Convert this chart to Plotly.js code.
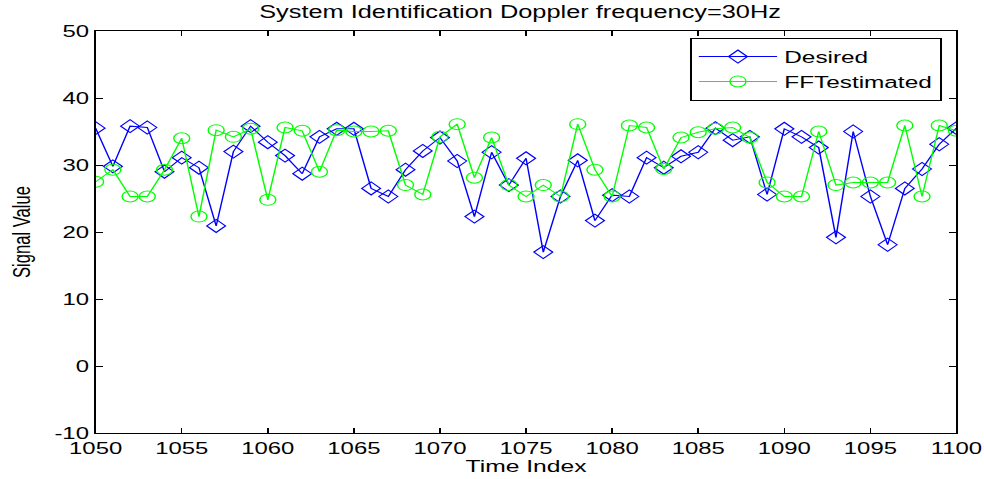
<!DOCTYPE html>
<html>
<head>
<meta charset="utf-8">
<script src="https://cdn.plot.ly/plotly-3.0.1.min.js"></script>
<style>
html,body{margin:0;padding:0;background:#fff;overflow:hidden;}
#wrap{width:984px;height:479px;overflow:hidden;}
#chart{width:679px;height:479px;transform:scaleX(1.4492);transform-origin:0 0;}
</style>
</head>
<body>
<div id="wrap"><div id="chart"></div></div>
<script>
const timeIndex = [];
for (let t = 1050; t <= 1100; t++) timeIndex.push(t);

const desired = [35.5, 29.8, 35.8, 35.6, 29.0, 31.1, 29.6, 20.9, 32.0, 35.8,
  33.4, 31.4, 28.7, 34.2, 35.4, 35.4, 26.5, 25.3, 29.3, 32.1,
  34.1, 30.6, 22.3, 31.9, 27.0, 31.0, 17.0, 25.3, 30.7, 21.7,
  25.5, 25.3, 31.1, 29.6, 31.3, 31.9, 35.5, 33.7, 34.2, 25.6,
  35.4, 34.2, 32.6, 19.2, 35.0, 25.3, 18.1, 26.5, 29.4, 33.1, 35.5];

const fftEstimated = [27.5, 29.3, 25.3, 25.3, 29.3, 34.0, 22.3, 35.2, 34.2, 35.4,
  24.8, 35.6, 35.1, 29.0, 35.2, 35.0, 35.0, 35.1, 27.0, 25.6,
  34.2, 36.1, 28.1, 34.1, 27.0, 25.3, 27.0, 25.3, 36.1, 29.3,
  25.3, 35.9, 35.6, 29.4, 34.1, 34.9, 35.4, 35.6, 34.1, 27.4,
  25.3, 25.3, 35.0, 27.0, 27.4, 27.4, 27.4, 35.9, 25.3, 35.9, 35.1];

const seriesNames = ['Desired', 'FFTestimated'];
const yTicks = [-10, 0, 10, 20, 30, 40, 50];
const xTicks = [1050, 1055, 1060, 1065, 1070, 1075, 1080, 1085, 1090, 1095, 1100];

const traces = [
  {x: timeIndex, y: desired, name: seriesNames[0], type: 'scatter', mode: 'lines+markers',
   line: {color: '#0000ff', width: 1},
   marker: {symbol: 'diamond-open', size: 10, color: '#0000ff', line: {width: 1, color: '#0000ff'}}},
  {x: timeIndex, y: fftEstimated, name: seriesNames[1], type: 'scatter', mode: 'lines+markers',
   line: {color: '#00ff00', width: 1},
   marker: {symbol: 'circle-open', size: 11, color: '#00ff00', line: {width: 1, color: '#00ff00'}}}
];

const FONT = 'Arial, Liberation Sans, sans-serif';
const axisCommon = {
  showgrid: false, zeroline: false, showline: true, linecolor: '#000', linewidth: 1.3,
  mirror: 'allticks', ticks: 'inside', tickcolor: '#000', tickwidth: 1,
  tickfont: {family: FONT, size: 16.5, color: '#000'}
};

const layout = {
  width: 679, height: 479,
  margin: {l: 66, r: 19, t: 31, b: 46},
  paper_bgcolor: '#fff', plot_bgcolor: '#fff',
  font: {family: FONT, color: '#000'},
  title: {text: 'System Identification Doppler frequency=30Hz', xref: 'container', x: 0.5285, xanchor: 'center',
    yref: 'container', y: 0.975, yanchor: 'middle', font: {size: 17.5, color: '#000'}},
  xaxis: Object.assign({}, axisCommon, {range: [1050, 1100], tickvals: xTicks, ticktext: xTicks.map(String), ticklen: 5,
    title: {text: 'Time Index', font: {size: 17, color: '#000'}, standoff: 2}}),
  yaxis: Object.assign({}, axisCommon, {range: [-10, 50], tickvals: yTicks, ticktext: yTicks.map(String), ticklen: 5,
    title: {text: 'Signal Value', font: {size: 16.6, color: '#000'}, standoff: 12}}),
  showlegend: true,
  legend: {x: 0.983, y: 0.983, xanchor: 'right', yanchor: 'top', bgcolor: '#fff', bordercolor: '#000', borderwidth: 1.3,
    font: {size: 16.8, color: '#000'}, tracegroupgap: 0, itemwidth: 54}
};

Plotly.newPlot('chart', traces, layout, {displayModeBar: false, staticPlot: true});
</script>
</body>
</html>
